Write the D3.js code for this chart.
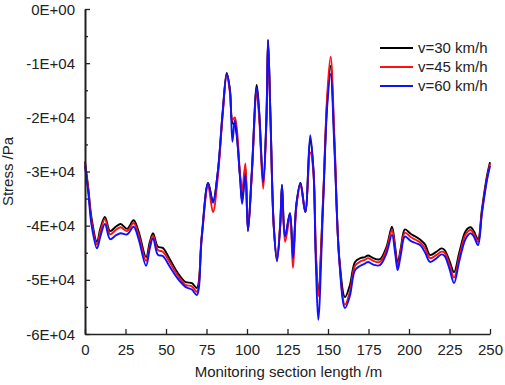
<!DOCTYPE html>
<html>
<head>
<meta charset="utf-8">
<script src="https://cdn.jsdelivr.net/npm/d3@7"></script>
<style>
  html, body { margin: 0; padding: 0; background: #fff; overflow: hidden; }
  svg { display: block; }
  text { font-family: Arial, "Liberation Sans", sans-serif; fill: #222; }
</style>
</head>
<body>
<div id="chart"></div>
<script>
// monitoring positions (m)
const positions = [0, 2, 4, 7.4, 9.5, 12.3, 15.5, 19, 22, 26, 30, 33, 37.7, 40, 42, 45, 48, 52, 57, 62, 66, 69,
  72, 76, 79, 82, 85, 87.5, 89.5, 91, 92.5, 95.7, 97, 99, 100.6, 103, 106, 107.5, 110, 112, 113, 114.5,
  116.5, 118.5, 120.5, 121.6, 123.5, 126.5, 128.4, 130.5, 133, 136, 139, 141, 142.5, 144, 147, 149.5,
  151.6, 154, 157, 160.5, 163.5, 166.7, 170, 172.8, 174.7, 178, 182, 186, 189.5, 191.5, 193, 195, 197.5,
  201, 204, 207, 210, 213, 217, 220, 222, 225, 227.8, 231, 235, 238, 240, 242.6, 245, 248, 250];

// stress in units of 1E+04 Pa
const v30 = [-2.82, -3.30, -3.85, -4.30, -4.05, -3.84, -4.10, -4.02, -3.97, -4.06, -3.90, -4.10, -4.58, -4.30, -4.14, -4.39, -4.41, -4.60, -4.86, -5.04, -5.06, -5.15,
  -4.20, -3.21, -3.55, -3.00, -1.90, -1.18, -1.50, -2.10, -2.15, -3.10, -3.55, -2.92, -4.08, -3.00, -1.40, -1.90, -3.22, -2.00, -0.57, -2.00,
  -4.00, -4.63, -4.00, -3.25, -4.20, -3.77, -4.55, -3.60, -3.21, -3.75, -2.40, -2.97, -4.50, -5.24, -3.50, -1.70,
  -1.05, -2.50, -4.60, -5.32, -5.10, -4.67, -4.60, -4.58, -4.55, -4.60, -4.62, -4.40, -4.02, -4.40, -4.69, -4.40, -4.07,
  -4.15, -4.20, -4.26, -4.35, -4.54, -4.48, -4.42, -4.45, -4.65, -4.86, -4.50, -4.10, -4.03, -4.10, -4.25, -3.70, -3.10, -2.83];

const v45 = [-2.85, -3.33, -3.90, -4.35, -4.10, -3.88, -4.16, -4.08, -4.03, -4.10, -3.95, -4.16, -4.65, -4.36, -4.18, -4.45, -4.48, -4.66, -4.91, -5.09, -5.12, -5.22,
  -4.25, -3.27, -3.75, -3.10, -1.95, -1.22, -1.55, -2.05, -2.00, -3.05, -3.35, -2.85, -4.10, -3.05, -1.55, -2.00, -3.32, -2.10, -0.62, -2.05,
  -4.00, -4.60, -3.95, -3.30, -4.30, -3.85, -4.78, -3.65, -3.25, -3.75, -2.65, -3.00, -4.50, -5.30, -3.50, -1.60,
  -0.88, -2.40, -4.65, -5.46, -5.22, -4.74, -4.66, -4.63, -4.60, -4.65, -4.67, -4.45, -4.08, -4.45, -4.75, -4.45, -4.13,
  -4.21, -4.26, -4.31, -4.42, -4.60, -4.54, -4.48, -4.50, -4.72, -4.96, -4.58, -4.16, -4.08, -4.15, -4.30, -3.75, -3.15, -2.86];

const v60 = [-2.90, -3.38, -3.98, -4.42, -4.20, -3.97, -4.25, -4.18, -4.14, -4.16, -4.02, -4.24, -4.74, -4.42, -4.23, -4.54, -4.56, -4.74, -4.97, -5.13, -5.18, -5.28,
  -4.25, -3.21, -3.58, -3.00, -1.90, -1.20, -1.52, -2.45, -2.05, -3.10, -3.60, -3.05, -4.10, -3.00, -1.45, -1.90, -3.20, -2.00, -0.57, -2.00,
  -4.00, -4.66, -4.00, -3.25, -4.20, -3.77, -4.60, -3.60, -3.21, -3.75, -2.33, -2.97, -4.70, -5.74, -3.60, -1.80,
  -1.20, -2.60, -4.65, -5.52, -5.30, -4.82, -4.74, -4.70, -4.67, -4.72, -4.73, -4.52, -4.17, -4.52, -4.82, -4.53, -4.20,
  -4.28, -4.32, -4.36, -4.50, -4.67, -4.60, -4.53, -4.56, -4.80, -5.06, -4.66, -4.24, -4.14, -4.20, -4.36, -3.78, -3.18, -2.90];

const seriesNames = ["v=30 km/h", "v=45 km/h", "v=60 km/h"];
const seriesColors = ["#000000", "#ff1010", "#1010ff"];
const xTicks = [0, 25, 50, 75, 100, 125, 150, 175, 200, 225, 250];
const yTicks = [0, -1, -2, -3, -4, -5, -6];

const width = 505, height = 385;
const margin = { top: 9, right: 15, bottom: 51, left: 85 };
const innerWidth = width - margin.left - margin.right,
    innerHeight = height - margin.top - margin.bottom;

const svg = d3.select("#chart").append("svg")
    .attr("width", width)
    .attr("height", height);

const g = svg.append("g")
    .attr("transform", "translate(" + margin.left + "," + margin.top + ")");

const xScale = d3.scaleLinear().domain([0, 250]).range([0, innerWidth]);
const yScale = d3.scaleLinear().domain([-6, 0]).range([innerHeight, 0]);

// lines
const allSeries = [v30, v45, v60];
const line = d3.line()
    .x((d, i) => xScale(positions[i]))
    .y(d => yScale(d))
    .curve(d3.curveCatmullRom.alpha(0.5));

allSeries.forEach(function(s, i) {
    g.append("path")
        .attr("fill", "none")
        .attr("stroke", seriesColors[i])
        .attr("stroke-width", 1.9)
        .attr("stroke-linejoin", "round")
        .attr("d", line(s));
});

// axes (ticks pointing inward)
const fmt = v => v === 0 ? "0E+00" : "-" + Math.abs(v) + "E+04";

const yAxis = g.append("g")
    .call(d3.axisLeft(yScale).tickValues(yTicks).tickFormat(fmt).tickSizeInner(-5).tickSizeOuter(0).tickPadding(10));
yAxis.selectAll(".tick text")
    .attr("text-anchor", "end")
    .attr("dy", null)
    .attr("y", 5);

const yMinor = g.append("g")
    .call(d3.axisLeft(yScale).tickValues(d3.range(-5.5, 0, 1)).tickFormat("").tickSizeInner(-3).tickSizeOuter(0));
yMinor.selectAll("text").remove();

const xAxis = g.append("g")
    .attr("transform", "translate(0," + innerHeight + ")")
    .call(d3.axisBottom(xScale).tickValues(xTicks).tickSizeInner(-5).tickSizeOuter(0));
xAxis.selectAll(".tick text")
    .attr("text-anchor", "middle")
    .attr("dy", null)
    .attr("y", 21);

[yAxis, yMinor, xAxis].forEach(a => {
    a.attr("font-size", null).attr("font-family", null);
    a.select(".domain").attr("stroke", "#222").attr("stroke-width", 1.6);
    a.selectAll(".tick line").attr("stroke", "#222").attr("stroke-width", 1.3);
    a.selectAll("text").style("font-size", "15px").attr("fill", "#222");
});

// axis titles
g.append("text")
    .attr("transform", `translate(${-margin.left + 13}, ${innerHeight / 2}) rotate(-90)`)
    .attr("text-anchor", "middle")
    .style("font-size", "15px")
    .text("Stress /Pa");

g.append("text")
    .attr("x", innerWidth / 2 + 1)
    .attr("y", innerHeight + 43)
    .attr("text-anchor", "middle")
    .style("font-size", "15px")
    .text("Monitoring section length /m");

// legend
const legend = g.append("g")
    .attr("transform", "translate(" + (380 - margin.left) + "," + (48 - margin.top) + ")");

seriesNames.forEach(function(name, i) {
    const row = legend.append("g").attr("transform", "translate(0," + (i * 19) + ")");
    row.append("line")
        .attr("x1", 0).attr("x2", 33)
        .attr("stroke", seriesColors[i])
        .attr("stroke-width", 1.9);
    row.append("text")
        .attr("x", 38)
        .attr("y", 5)
        .style("font-size", "15px")
        .text(name);
});
</script>
</body>
</html>
